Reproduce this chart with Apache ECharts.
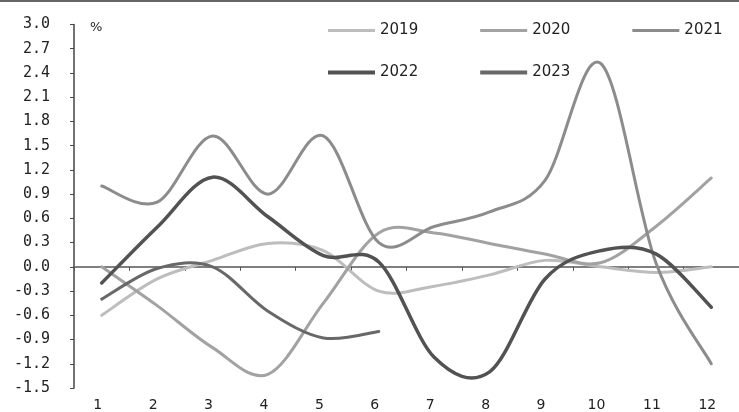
<!DOCTYPE html>
<html lang="zh-CN">

<head>
    <meta charset="UTF-8">
    <title>月度环比</title>
    <script src="https://cdn.jsdelivr.net/npm/echarts@6/dist/echarts.min.js"></script>
    <style>
        html, body { margin: 0; padding: 0; background: #fff; }
    </style>
</head>

<body>
    <div id="main" style="width: 739px;height:412px;"></div>
    <script type="text/javascript">
        // 数据
        var months = ['1', '2', '3', '4', '5', '6', '7', '8', '9', '10', '11', '12'];
        var yearNames = ['2019', '2020', '2021', '2022', '2023'];
        var v2019 = [-0.6, -0.15, 0.08, 0.29, 0.2, -0.3, -0.24, -0.1, 0.08, 0.0, -0.07, 0.0];
        var v2020 = [0.0, -0.48, -1.0, -1.33, -0.45, 0.42, 0.42, 0.29, 0.16, 0.05, 0.5, 1.1];
        var v2021 = [1.0, 0.8, 1.62, 0.9, 1.62, 0.3, 0.5, 0.68, 1.07, 2.52, 0.05, -1.2];
        var v2022 = [-0.2, 0.49, 1.11, 0.62, 0.14, 0.06, -1.12, -1.3, -0.15, 0.2, 0.16, -0.5];
        var v2023 = [-0.4, -0.02, 0.0, -0.55, -0.88, -0.8];
        var yearColors = ['#bdbdbd', '#a2a2a2', '#8c8c8c', '#525252', '#686868'];
        var yearWidths = [3, 3, 3, 3.5, 3];

        var allValues = [v2019, v2020, v2021, v2022, v2023];

        // 平滑曲线（Catmull-Rom -> 三次贝塞尔），坐标由坐标轴换算
        function smoothRender(vals, color, width) {
            return function (params, api) {
                if (params.dataIndex !== 0) return null;
                var pts = vals.map(function (v, i) { return api.coord([i, v]); });
                var n = pts.length;
                var d = 'M' + pts[0][0] + ' ' + pts[0][1];
                for (var i = 0; i < n - 1; i++) {
                    var p0 = pts[Math.max(i - 1, 0)], p1 = pts[i];
                    var p2 = pts[i + 1], p3 = pts[Math.min(i + 2, n - 1)];
                    var c1x = p1[0] + (p2[0] - p0[0]) / 6, c1y = p1[1] + (p2[1] - p0[1]) / 6;
                    var c2x = p2[0] - (p3[0] - p1[0]) / 6, c2y = p2[1] - (p3[1] - p1[1]) / 6;
                    d += ' C' + c1x + ' ' + c1y + ' ' + c2x + ' ' + c2y + ' ' + p2[0] + ' ' + p2[1];
                }
                return {
                    type: 'path',
                    shape: { pathData: d },
                    style: { stroke: color, lineWidth: width, fill: null, lineCap: 'round', lineJoin: 'round' }
                };
            };
        }

        var series = yearNames.map(function (name, i) {
            var vals = allValues[i];
            return {
                name: name,
                type: 'custom',
                xAxisIndex: 0,
                clip: false,
                encode: { x: 0, y: 1 },
                data: vals.map(function (v, k) { return [k, v]; }),
                itemStyle: { color: yearColors[i] },
                renderItem: smoothRender(vals, yearColors[i], yearWidths[i]),
                z: 3
            };
        });

        var myChart = echarts.init(document.getElementById('main'));
        var font = 'DejaVu Sans';

        var option = {
            backgroundColor: '#fff',
            animation: false,
            grid: { left: 74, right: -8, top: 24.5, bottom: 23 },
            legend: [{
                data: yearNames.slice(0, 3),
                left: 323, top: 18,
                icon: 'rect',
                itemWidth: 47, itemHeight: 3, itemGap: 62,
                textStyle: { fontFamily: font, fontSize: 15, color: '#222' }
            }, {
                data: yearNames.slice(3),
                left: 323, top: 60,
                icon: 'rect',
                itemWidth: 47, itemHeight: 4, itemGap: 62,
                textStyle: { fontFamily: font, fontSize: 15, color: '#222' }
            }],
            xAxis: [{
                type: 'category',
                data: months,
                position: 'bottom',
                boundaryGap: true,
                axisLine: { onZero: true, lineStyle: { color: '#555', width: 1.5 } },
                axisTick: { show: true, length: 4, lineStyle: { color: '#555' } },
                axisLabel: { show: false },
                splitLine: { show: false }
            }, {
                type: 'category',
                data: months,
                position: 'bottom',
                boundaryGap: true,
                axisLine: { show: false, onZero: false },
                axisTick: { show: false },
                axisLabel: {
                    margin: 10,
                    padding: [0, 8, 0, 0],
                    fontFamily: font, fontSize: 14, color: '#222'
                },
                splitLine: { show: false }
            }],
            yAxis: {
                type: 'value',
                min: -1.5, max: 3.0, interval: 0.3,
                name: '%',
                nameLocation: 'end',
                nameGap: -3,
                nameTextStyle: {
                    fontFamily: font, fontSize: 13, color: '#222',
                    align: 'left', verticalAlign: 'middle', padding: [0, 0, 0, 16]
                },
                axisLine: { show: true, lineStyle: { color: '#444', width: 1.5 } },
                axisTick: { show: true, length: 4, lineStyle: { color: '#444' } },
                axisLabel: {
                    margin: 24,
                    fontFamily: 'DejaVu Sans Mono', fontSize: 15, color: '#222',
                    formatter: function (v) { return v.toFixed(1); }
                },
                splitLine: { show: false }
            },
            graphic: [{
                type: 'rect',
                shape: { x: 0, y: 0, width: 739, height: 2 },
                style: { fill: '#666' }
            }],
            series: series
        };
        myChart.setOption(option);
    </script>
</body>

</html>
